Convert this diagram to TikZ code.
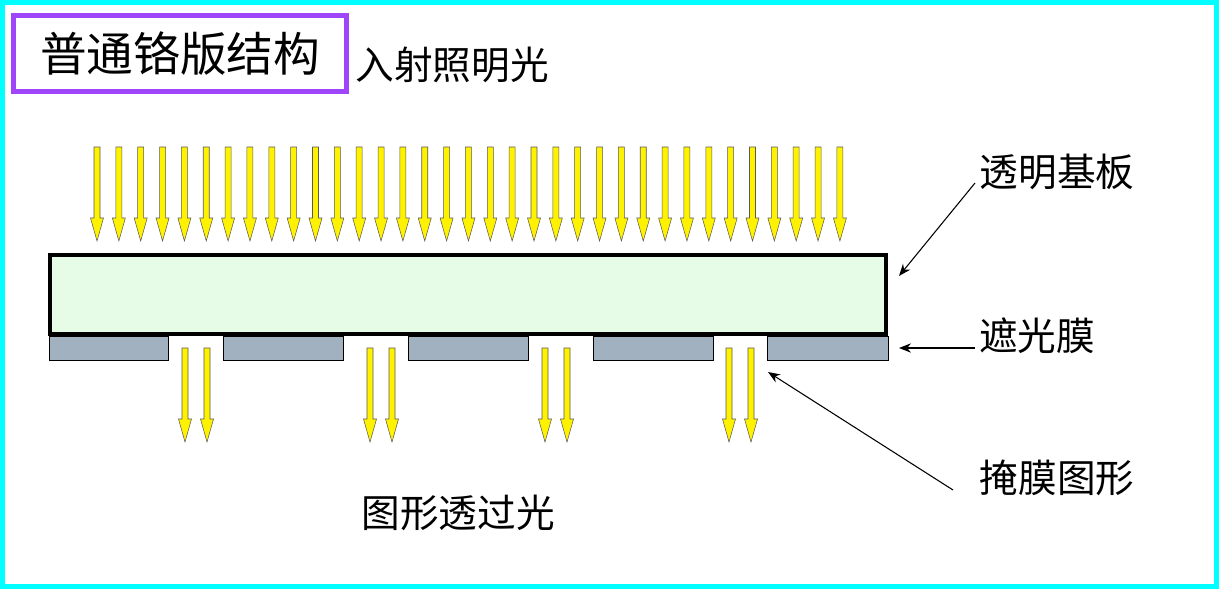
\documentclass[tikz,border=0pt]{standalone}
\usepackage{fontspec}
\newfontfamily\cjk{Noto Sans CJK SC}
\usetikzlibrary{arrows.meta}
\definecolor{framecyan}{RGB}{0,255,255}
\definecolor{titlepurple}{RGB}{160,70,250}
\definecolor{glassgreen}{RGB}{230,252,230}
\definecolor{chromegray}{RGB}{162,177,192}
\tikzset{
  lbl/.style={font=\cjk\fontsize{29}{29}\selectfont, inner sep=0pt},
  titlebox/.style={draw=titlepurple, line width=3.75pt, font=\cjk\fontsize{35}{35}\selectfont,
    minimum width=249.75pt, minimum height=57pt, inner sep=0pt},
  callout/.style={line width=0.8pt, -{Stealth[length=9pt,width=7pt]}},
  lightarrow/.pic={
    \filldraw[fill=yellow, draw=black!65, line width=0.4pt]
      (-3,0) -- (-3,71) -- (-6.5,71) -- (0,94) -- (6.5,71) -- (3,71) -- (3,0) -- cycle;
  }
}
\begin{document}
\begin{tikzpicture}[x=0.75pt, y=-0.75pt]
    \useasboundingbox (0,0) rectangle (1219,589);
    % Outer frame
    \draw[framecyan, line width=3.75pt] (2.5,2.5) rectangle (1216.5,586.5);

    % Title and incoming light label
    \node[titlebox] (title) at (180,53.5) {\raisebox{-3pt}{普通铬版结构}};
    \node[lbl] (incident) at (452,65) {入射照明光};

    % Incoming light arrows
    \foreach \i in {0,...,34}
      \pic at ({97+\i*21.85},147) {lightarrow};

    % Chrome film segments
    \foreach \xa/\xb in {49/168, 223/343, 408/528, 593/713, 767/888}
      \filldraw[fill=chromegray, draw=black, line width=0.6pt] (\xa,336) rectangle (\xb,360);

    % Glass substrate
    \filldraw[fill=glassgreen, draw=black, line width=3pt] (50,255) rectangle (886,334);

    % Transmitted light arrows
    \foreach \x in {185,207,370,392,545,567,729,751}
      \pic at (\x,348) {lightarrow};

    % Labels on the right
    \node[lbl] (glass) at (1057,172) {透明基板};
    \node[lbl] (film) at (1037,336) {遮光膜};
    \node[lbl] (pattern) at (1057,478) {掩膜图形};
    \node[lbl] (passed) at (458,513) {图形透过光};

    % Callout end points
    \coordinate (glassfrom) at (975,183);
    \coordinate (glasstip) at (899,276);
    \coordinate (filmfrom) at (975,348);
    \coordinate (filmtip) at (899,348);
    \coordinate (patternfrom) at (953,490);
    \coordinate (patterntip) at (768,372);
    \draw[callout] (glassfrom) -- (glasstip);
    \draw[callout] (filmfrom) -- (filmtip);
    \draw[callout] (patternfrom) -- (patterntip);
\end{tikzpicture}
\end{document}
